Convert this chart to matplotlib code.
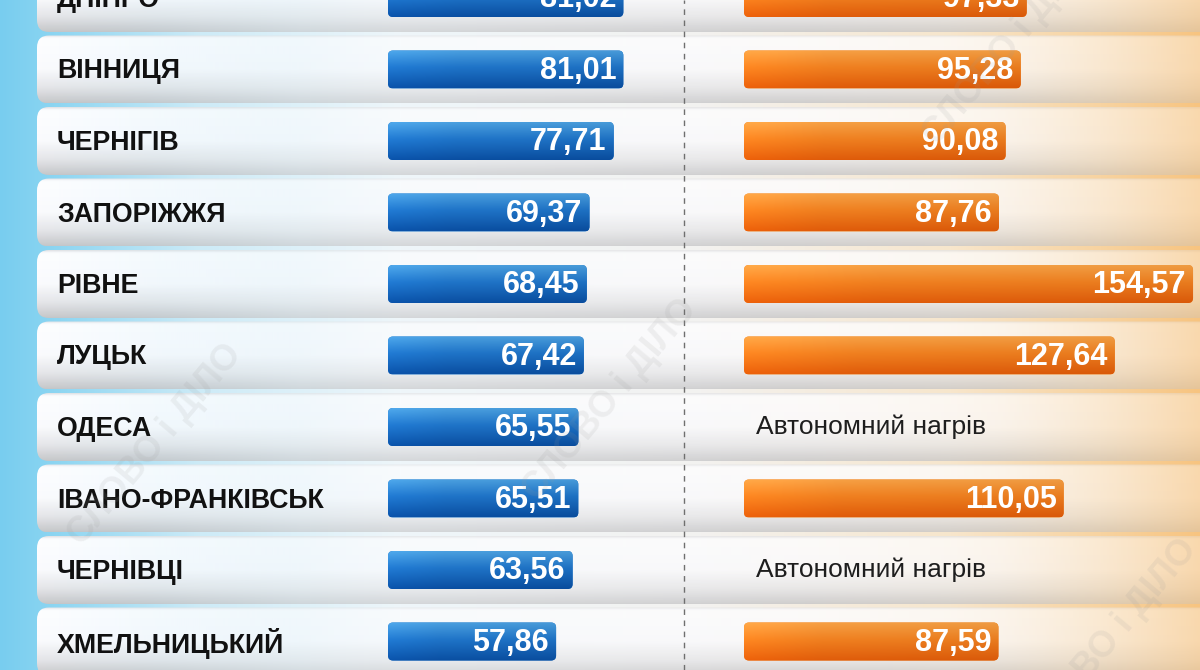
import numpy as np
import matplotlib
matplotlib.use("Agg")
import matplotlib.pyplot as plt
from matplotlib.patches import FancyBboxPatch
from matplotlib.colors import to_rgb

plt.rcParams['font.family'] = ['Liberation Sans', 'DejaVu Sans']

# дані
cities = ["ДНІПРО", "ВІННИЦЯ", "ЧЕРНІГІВ", "ЗАПОРІЖЖЯ", "РІВНЕ", "ЛУЦЬК",
          "ОДЕСА", "ІВАНО-ФРАНКІВСЬК", "ЧЕРНІВЦІ", "ХМЕЛЬНИЦЬКИЙ"]
blue_vals = [81.02, 81.01, 77.71, 69.37, 68.45, 67.42, 65.55, 65.51, 63.56, 57.86]
orange_vals = [97.33, 95.28, 90.08, 87.76, 154.57, 127.64, None, 110.05, None, 87.59]
no_bar_text = "Автономний нагрів"
watermark = "СЛОВО і ДІЛО"

W, H = 1200, 670
ROW0, PITCH = -2.0, 71.5      # центр першого рядка і крок, px
PX_PER_UNIT = 2.905
BAR_H = 38 / PITCH

fig = plt.figure(figsize=(W / 100, H / 100), dpi=100)


def row_px(i):
    return ROW0 + PITCH * i


def ylim_rows():
    return ((H - ROW0) / PITCH, (0 - ROW0) / PITCH)


# --- фон ---
bg = fig.add_axes([0, 0, 1, 1])
bg.set_xlim(0, W)
bg.set_ylim(H, 0)
bg.axis("off")

xs = np.arange(W)
stops_x = [0, 40, 200, 400, 700, 950, 1100, 1200]
stops_c = ["#78cdef", "#86d3f1", "#cdebf7", "#eef6fa", "#f3f2f0", "#f7e6cc", "#f8d3a0", "#f7c480"]
stops_rgb = np.array([to_rgb(c) for c in stops_c])
grad = np.stack([np.interp(xs, stops_x, stops_rgb[:, k]) for k in range(3)], axis=-1)
bg_img = np.repeat(grad[None, :, :], 10, axis=0)
bg.imshow(bg_img, extent=[0, W, H, 0], aspect="auto", zorder=0)

# панелі рядків
panel_h = 68
px_x = np.linspace(37, 1237, 600)
alpha_x = np.interp(px_x, [37, 120, 300, 800, 1000, 1237], [1.0, 0.92, 0.6, 0.8, 0.7, 0.3])
t = np.linspace(0, 1, 60)
shade = np.interp(t, [0, 0.04, 0.5, 0.78, 1.0], [0.90, 1.0, 0.985, 0.90, 0.78])
for i in range(len(cities)):
    top = row_px(i) - panel_h / 2
    patch = FancyBboxPatch((37, top), 1200, panel_h,
                           boxstyle="round,pad=0,rounding_size=12",
                           facecolor="none", edgecolor="none", zorder=1)
    bg.add_patch(patch)
    rgba = np.ones((len(t), len(px_x), 4))
    rgba[:, :, 0] = shade[:, None]
    rgba[:, :, 1] = shade[:, None]
    rgba[:, :, 2] = (shade[:, None] * 1.01).clip(0, 1)
    rgba[:, :, 3] = alpha_x[None, :]
    im = bg.imshow(rgba, extent=[37, 1237, top + panel_h, top], aspect="auto", zorder=1)
    im.set_clip_path(patch)
    bg.text(57, row_px(i) + 2, cities[i], ha="left", va="center",
            fontsize=19.3, fontweight="bold", color="#111111", zorder=3)

bg.axvline(684, color="#6f6f6f", lw=1, ls=(0, (4, 4)), zorder=2)
bg.set_xlim(0, W)
bg.set_ylim(H, 0)


# --- стовпчики ---
def bar_axes(x0, x1):
    ax = fig.add_axes([x0 / W, 0, (x1 - x0) / W, 1])
    ax.set_xlim(0, (x1 - x0) / PX_PER_UNIT)
    ax.set_ylim(*ylim_rows())
    ax.axis("off")
    ax.patch.set_alpha(0)
    return ax


def grad_bar(ax, i, v, top_c, mid_c, bot_c):
    y0 = i - BAR_H / 2
    r = 5 / PX_PER_UNIT
    patch = FancyBboxPatch((0, y0), v, BAR_H,
                           boxstyle=f"round,pad=0,rounding_size={r}",
                           mutation_aspect=PX_PER_UNIT / PITCH,
                           facecolor=mid_c, edgecolor="none", zorder=2)
    ax.add_patch(patch)
    tt = np.linspace(0, 1, 40)
    cols = np.array([to_rgb(top_c), to_rgb(mid_c), to_rgb(bot_c)])
    vert = np.stack([np.interp(tt, [0, 0.45, 1], cols[:, k]) for k in range(3)], axis=-1)
    hx = np.linspace(0, 1, 50)
    light = np.interp(hx, [0, 0.3, 1], [1.06, 1.0, 0.97])
    img = (vert[:, None, :] * light[None, :, None]).clip(0, 1)
    im = ax.imshow(img, extent=[0, v, y0 + BAR_H, y0], aspect="auto", zorder=2)
    im.set_clip_path(patch)
    ax.text(v - 7 / PX_PER_UNIT, i + 0.015, f"{v:.2f}".replace(".", ","),
            ha="right", va="center", fontsize=22, fontweight="bold",
            color="white", zorder=3)


ax_b = bar_axes(388, 684)
for i, v in enumerate(blue_vals):
    grad_bar(ax_b, i, v, "#4a9fdf", "#1f74c8", "#0a4fa2")
ax_b.set_xlim(0, (684 - 388) / PX_PER_UNIT)
ax_b.set_ylim(*ylim_rows())

ax_o = bar_axes(744, 1200)
for i, v in enumerate(orange_vals):
    if v is None:
        ax_o.text(12 / PX_PER_UNIT, i, no_bar_text, ha="left", va="center",
                  fontsize=19, color="#1e1e1e", zorder=3)
    else:
        grad_bar(ax_o, i, v, "#f6a044", "#f08020", "#e05c0a")
ax_o.set_xlim(0, (1200 - 744) / PX_PER_UNIT)
ax_o.set_ylim(*ylim_rows())

# --- водяні знаки ---
top_ax = fig.add_axes([0, 0, 1, 1])
top_ax.set_xlim(0, W)
top_ax.set_ylim(H, 0)
top_ax.axis("off")
top_ax.patch.set_alpha(0)
for (wx, wy) in [(155, 445), (610, 400), (1010, 45), (1110, 640)]:
    top_ax.text(wx, wy, watermark, rotation=50, ha="center", va="center",
                fontsize=26, fontweight="bold", color="#9a9a9a", alpha=0.13)

fig.savefig("out.png", dpi=100)
